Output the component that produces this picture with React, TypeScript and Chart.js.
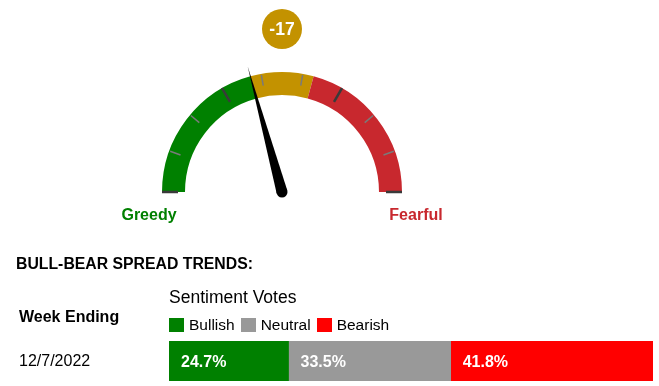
import React, { useEffect, useRef } from 'react';
import { Chart, registerables } from 'chart.js';

Chart.register(...registerables);

// ---- Gauge data ----
const zoneNames = ['Greedy', 'Neutral', 'Fearful'];
const zoneBounds = [-100, -17, 17, 100];
const zoneColors = ['#008000', '#C39200', '#C8282E'];
const spreadValue = -17;
const gaugeTickCount = 10;

// ---- Bull-bear spread trend data ----
const weekEnding = ['12/7/2022'];
const sentimentNames = ['Bullish', 'Neutral', 'Bearish'];
const bullishVotes = [24.7];
const neutralVotes = [33.5];
const bearishVotes = [41.8];
const sentimentColors = ['#008000', '#999999', '#FF0000'];

const FONT = "'Liberation Sans', Arial, Helvetica, sans-serif";

const zoneWidths = zoneNames.map((_, i) => zoneBounds[i + 1] - zoneBounds[i]);

const gaugePlugin = {
  id: 'gaugeDecor',
  afterDatasetsDraw(chart: any) {
    const meta = chart.getDatasetMeta(0);
    const first = meta.data[0];
    const last = meta.data[meta.data.length - 1];
    const p = first.getProps(['x', 'y', 'outerRadius', 'innerRadius', 'startAngle']);
    const a1 = last.getProps(['endAngle']).endAngle;
    const cx = p.x, cy = p.y, R = p.outerRadius, a0 = p.startAngle;
    const ctx = chart.ctx;
    ctx.save();
    // ticks
    for (let i = 0; i < gaugeTickCount; i++) {
      const a = a0 + ((a1 - a0) * i) / (gaugeTickCount - 1);
      const major = i % 3 === 0;
      const rin = major ? R - 16 : R - 12;
      const rout = major ? R : R - 1;
      ctx.beginPath();
      ctx.strokeStyle = major ? '#3a3a3a' : '#7a7a7a';
      ctx.lineWidth = major ? 2.5 : 1.5;
      ctx.moveTo(cx + rin * Math.cos(a), cy + rin * Math.sin(a));
      ctx.lineTo(cx + rout * Math.cos(a), cy + rout * Math.sin(a));
      ctx.stroke();
    }
    // needle
    const min = zoneBounds[0];
    const max = zoneBounds[zoneBounds.length - 1];
    const a = a0 + ((a1 - a0) * (spreadValue - min)) / (max - min);
    const L = R + 10;
    const w = 5.5;
    ctx.beginPath();
    ctx.fillStyle = '#000';
    ctx.moveTo(cx + L * Math.cos(a), cy + L * Math.sin(a));
    ctx.lineTo(cx + w * Math.cos(a + Math.PI / 2), cy + w * Math.sin(a + Math.PI / 2));
    ctx.lineTo(cx + w * Math.cos(a - Math.PI / 2), cy + w * Math.sin(a - Math.PI / 2));
    ctx.closePath();
    ctx.fill();
    ctx.beginPath();
    ctx.arc(cx, cy, 5.5, 0, Math.PI * 2);
    ctx.fill();

    // zone labels
    ctx.font = `bold 16px ${FONT}`;
    ctx.textAlign = 'center';
    ctx.textBaseline = 'alphabetic';
    ctx.fillStyle = zoneColors[0];
    ctx.fillText(zoneNames[0], cx - (R + 13), cy + 28);
    ctx.fillStyle = zoneColors[2];
    ctx.fillText(zoneNames[2], cx + (R + 14), cy + 28);

    // value bubble
    let zi = 0;
    for (let i = 0; i < zoneNames.length; i++) {
      if (spreadValue >= zoneBounds[i]) zi = i;
    }
    const by = cy - R - 43;
    ctx.beginPath();
    ctx.fillStyle = zoneColors[zi];
    ctx.arc(cx, by, 20, 0, Math.PI * 2);
    ctx.fill();
    ctx.fillStyle = '#fff';
    ctx.font = `bold 17.5px ${FONT}`;
    ctx.fillText(String(spreadValue), cx, by + 6);
    ctx.restore();
  },
};

const barLabelPlugin = {
  id: 'barLabels',
  afterDatasetsDraw(chart: any) {
    const ctx = chart.ctx;
    ctx.save();
    ctx.font = `bold 16px ${FONT}`;
    ctx.fillStyle = '#fff';
    ctx.textAlign = 'left';
    ctx.textBaseline = 'alphabetic';
    chart.data.datasets.forEach((ds: any, i: number) => {
      const meta = chart.getDatasetMeta(i);
      meta.data.forEach((bar: any, j: number) => {
        const p = bar.getProps(['x', 'y', 'base']);
        const left = Math.min(p.x, p.base);
        ctx.fillText(ds.data[j].toFixed(1) + '%', left + 12, p.y + 5.5);
      });
    });
    ctx.restore();
  },
};

function Gauge() {
  const ref = useRef<HTMLCanvasElement>(null);
  useEffect(() => {
    const chart = new Chart(ref.current!, {
      type: 'doughnut',
      data: {
        labels: zoneNames,
        datasets: [
          {
            data: zoneWidths,
            backgroundColor: zoneColors,
            borderWidth: 0,
            hoverOffset: 0,
          },
        ],
      },
      options: {
        animation: false,
        responsive: false,
        rotation: -90,
        circumference: 180,
        radius: 120,
        cutout: `${(97 / 120) * 100}%`,
        layout: { padding: { left: 0, right: 95, top: 0, bottom: 122 } },
        plugins: { legend: { display: false }, tooltip: { enabled: false } },
        events: [],
      } as any,
      plugins: [gaugePlugin],
    });
    return () => chart.destroy();
  }, []);
  return (
    <canvas
      ref={ref}
      width={659}
      height={386}
      style={{ position: 'absolute', left: 0, top: 0, width: 659, height: 386 }}
    />
  );
}

function SpreadBar() {
  const ref = useRef<HTMLCanvasElement>(null);
  useEffect(() => {
    const series = [bullishVotes, neutralVotes, bearishVotes];
    const chart = new Chart(ref.current!, {
      type: 'bar',
      data: {
        labels: weekEnding,
        datasets: sentimentNames.map((name, i) => ({
          label: name,
          data: series[i],
          backgroundColor: sentimentColors[i],
          borderWidth: 0,
          barPercentage: 1,
          categoryPercentage: 1,
        })),
      },
      options: {
        indexAxis: 'y',
        animation: false,
        responsive: false,
        layout: { padding: 0 },
        scales: {
          x: { stacked: true, display: false, min: 0, max: 100 },
          y: { stacked: true, display: false },
        },
        plugins: { legend: { display: false }, tooltip: { enabled: false } },
        events: [],
      } as any,
      plugins: [barLabelPlugin],
    });
    return () => chart.destroy();
  }, []);
  return (
    <canvas
      ref={ref}
      width={484}
      height={40}
      style={{ position: 'absolute', left: 169, top: 341, width: 484, height: 40 }}
    />
  );
}

export default function App() {
  const text = (s: number, bold: boolean): React.CSSProperties => ({
    position: 'absolute',
    fontSize: s,
    lineHeight: `${s}px`,
    fontWeight: bold ? 'bold' : 'normal',
    whiteSpace: 'nowrap',
    color: '#000',
  });
  return (
    <div
      style={{
        position: 'absolute',
        left: 0,
        top: 0,
        width: 659,
        height: 386,
        overflow: 'hidden',
        background: '#fff',
        fontFamily: FONT,
      }}
    >
      <Gauge />
      <div style={{ ...text(15.8, true), left: 16, top: 256 }}>BULL-BEAR SPREAD TRENDS:</div>
      <div style={{ ...text(17.5, false), left: 169, top: 289.3 }}>Sentiment Votes</div>
      <div style={{ ...text(16, true), left: 19, top: 309.4 }}>Week Ending</div>
      <div style={{ ...text(16, false), left: 19, top: 352.7 }}>{weekEnding[0]}</div>
      <div
        style={{
          position: 'absolute',
          left: 169,
          top: 317,
          display: 'flex',
          alignItems: 'center',
          height: 16,
        }}
      >
        {sentimentNames.map((n, i) => (
          <React.Fragment key={n}>
            <span
              style={{
                display: 'inline-block',
                width: 15,
                height: 14,
                background: sentimentColors[i],
                marginRight: 5,
              }}
            />
            <span style={{ fontSize: 15.5, lineHeight: '15.5px', marginRight: 6, whiteSpace: 'nowrap' }}>
              {n}
            </span>
          </React.Fragment>
        ))}
      </div>
      <SpreadBar />
    </div>
  );
}
